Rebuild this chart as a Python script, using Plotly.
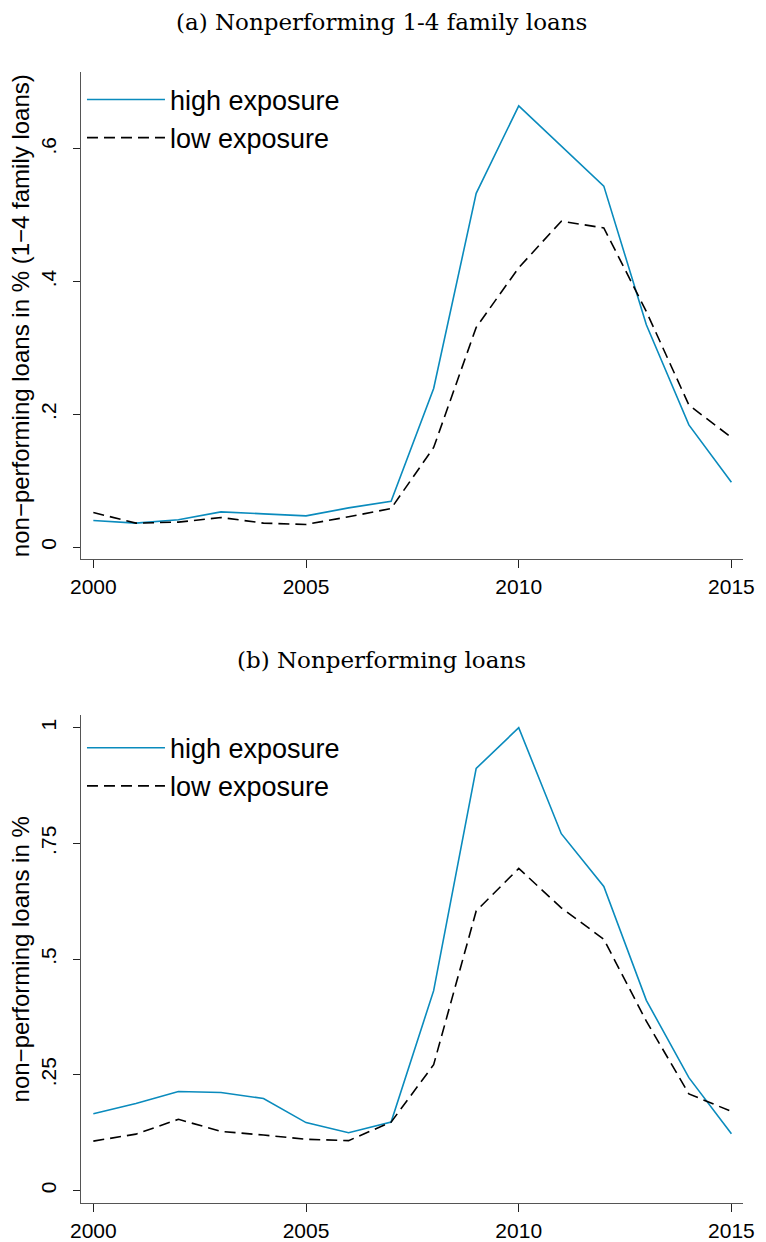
import plotly.graph_objects as go

years = list(range(2000, 2016))

# Panel (a): Nonperforming 1-4 family loans
high_a = [0.040, 0.036, 0.041, 0.053, 0.050, 0.047, 0.059, 0.069,
          0.239, 0.533, 0.665, 0.604, 0.544, 0.335, 0.184, 0.0975]
low_a = [0.052, 0.036, 0.0375, 0.0445, 0.036, 0.034, 0.0455, 0.058,
         0.150, 0.331, 0.421, 0.491, 0.481, 0.355, 0.214, 0.165]

# Panel (b): Nonperforming loans
high_b = [0.166, 0.188, 0.214, 0.212, 0.199, 0.147, 0.125, 0.148,
          0.432, 0.912, 1.000, 0.771, 0.657, 0.411, 0.244, 0.123]
low_b = [0.107, 0.122, 0.154, 0.128, 0.120, 0.111, 0.108, 0.148,
         0.272, 0.604, 0.696, 0.611, 0.543, 0.366, 0.209, 0.171]

x_ticks = [2000, 2005, 2010, 2015]
y_ticks_a = [0, 0.2, 0.4, 0.6]
y_ticklabels_a = ["0", ".2", ".4", ".6"]
y_ticks_b = [0, 0.25, 0.5, 0.75, 1]
y_ticklabels_b = ["0", ".25", ".5", ".75", "1"]

titles = ["(a) Nonperforming 1-4 family loans", "(b) Nonperforming loans"]
ytitles = ["non\u2212performing loans in % (1\u22124 family loans)",
           "non\u2212performing loans in %"]

BLUE = "#0a8bbd"
W, H = 766, 1242
SANS = "Liberation Sans, Arial, sans-serif"

fig = go.Figure()

fig.add_trace(go.Scatter(x=years, y=high_a, mode="lines", name="high exposure",
                         line=dict(color=BLUE, width=1.6),
                         xaxis="x", yaxis="y", legend="legend"))
fig.add_trace(go.Scatter(x=years, y=low_a, mode="lines", name="low exposure",
                         line=dict(color="black", width=1.6, dash="11px,6px"),
                         xaxis="x", yaxis="y", legend="legend"))
fig.add_trace(go.Scatter(x=years, y=high_b, mode="lines", name="high exposure",
                         line=dict(color=BLUE, width=1.6),
                         xaxis="x2", yaxis="y2", legend="legend2"))
fig.add_trace(go.Scatter(x=years, y=low_b, mode="lines", name="low exposure",
                         line=dict(color="black", width=1.6, dash="11px,6px"),
                         xaxis="x2", yaxis="y2", legend="legend2"))

xdom = [72.7 / W, 754 / W]
ydom_a = [1 - 563.3 / H, 1 - 72.7 / H]
ydom_b = [1 - 1212 / H, 1 - 720.7 / H]

tickfont = dict(family=SANS, size=21, color="black")
xcommon = dict(domain=xdom, range=[1999.703, 2015.28], tickmode="array",
               tickvals=x_ticks, ticks="outside", ticklen=8, tickwidth=1.3,
               tickcolor="#222", showline=True, linecolor="#555", linewidth=1.4,
               showgrid=False, zeroline=False, tickfont=tickfont)
ycommon = dict(ticks="outside", ticklen=7, tickwidth=1.3, tickcolor="#222",
               showline=True, linecolor="#555", linewidth=1.4, showgrid=False,
               zeroline=False, tickangle=-90, tickfont=tickfont, tickmode="array",
               ticklabelstandoff=8)

legend_common = dict(font=dict(family=SANS, size=27, color="black"),
                     bgcolor="rgba(0,0,0,0)", borderwidth=0, xanchor="left", yanchor="top",
                     itemwidth=78, traceorder="normal", tracegroupgap=0)

ytitle_font = dict(family=SANS, size=24, color="black")

fig.update_layout(
    width=W, height=H,
    margin=dict(l=0, r=0, t=0, b=0),
    paper_bgcolor="white", plot_bgcolor="white",
    showlegend=True,
    xaxis=dict(**xcommon, anchor="y"),
    xaxis2=dict(**xcommon, anchor="y2"),
    yaxis=dict(**ycommon, domain=ydom_a, range=[-0.0184, 0.7157],
               tickvals=y_ticks_a, ticktext=y_ticklabels_a, anchor="x",
               title=dict(text=ytitles[0], standoff=0, font=ytitle_font)),
    yaxis2=dict(**ycommon, domain=ydom_b, range=[-0.0272, 1.0264],
                tickvals=y_ticks_b, ticktext=y_ticklabels_b, anchor="x2",
                title=dict(text=ytitles[1], standoff=0, font=ytitle_font)),
    legend=dict(**legend_common, x=74 / W, y=1 - 76 / H),
    legend2=dict(**legend_common, x=74 / W, y=1 - 729 / H),
    annotations=[
        dict(text=titles[0], x=382 / W, y=1 - 22.5 / H, xref="paper", yref="paper",
             xanchor="center", yanchor="middle", showarrow=False,
             font=dict(family="DejaVu Serif", size=23, color="black")),
        dict(text=titles[1], x=382 / W, y=1 - 665 / H, xref="paper", yref="paper",
             xanchor="center", yanchor="middle", showarrow=False,
             font=dict(family="DejaVu Serif", size=23, color="black")),
    ],
)

fig.write_html("out.html")
